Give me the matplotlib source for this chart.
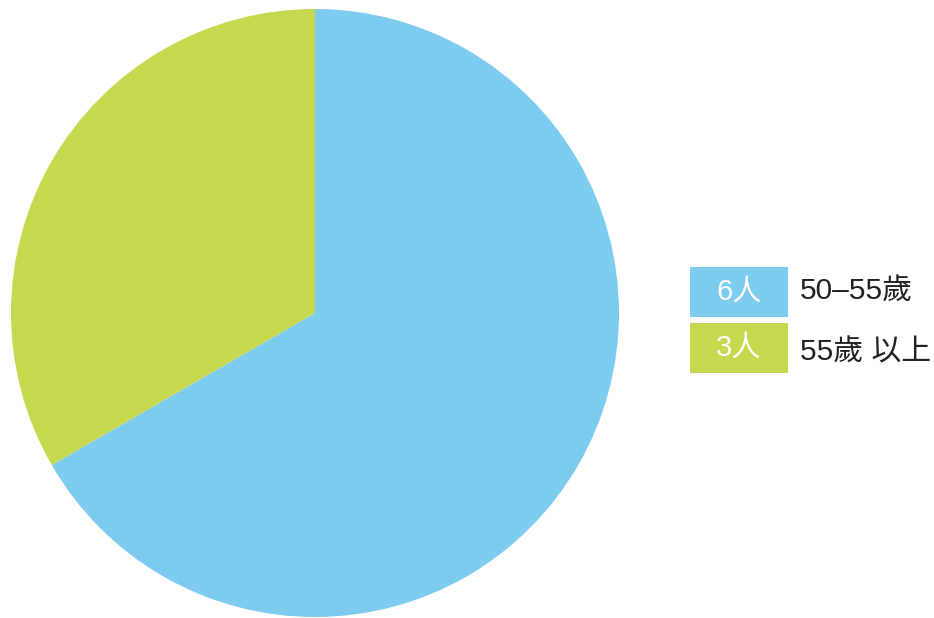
import matplotlib.pyplot as plt
from matplotlib.patches import Rectangle

plt.rcParams['font.family'] = ['Liberation Sans', 'Noto Sans CJK TC', 'DejaVu Sans']

counts = [6, 3]
count_labels = ['6人', '3人']
groups = ['50–55歲', '55歲 以上']
colors = ['#7ecbf0', '#c5d84e']

fig = plt.figure(figsize=(9.34, 6.18), dpi=100)
ax = fig.add_axes([0, 0, 1, 1])

ax.pie(counts, colors=colors, startangle=90, counterclock=False,
       center=(315, 305), radius=304, frame=True,
       wedgeprops=dict(linewidth=0))
ax.set_xlim(0, 934)
ax.set_ylim(0, 618)
ax.set_aspect('equal')
ax.axis('off')

# legend boxes
box_top = [301, 245]
for i in range(len(counts)):
    y = box_top[i]
    ax.add_patch(Rectangle((690, y), 98, 50, facecolor=colors[i], edgecolor='none'))
    ax.text(739, y + 25, count_labels[i], color='white', fontsize=21,
            ha='center', va='center')
    ax.text(800, y + 26 - (i * 6), groups[i], color='#231f20', fontsize=21.5,
            ha='left', va='center')

fig.savefig('out.png', dpi=100)
